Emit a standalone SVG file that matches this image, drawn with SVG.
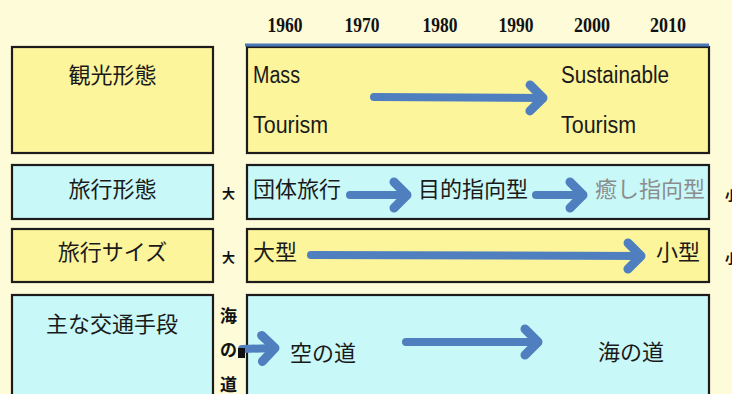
<svg xmlns="http://www.w3.org/2000/svg" width="732" height="394" viewBox="0 0 732 394">
<defs>
<style>
.bg{fill:#fdfbd8}
.y{fill:#fcf59c;stroke:#1c1c1c;stroke-width:2.2}
.c{fill:#c8f8f8;stroke:#1c1c1c;stroke-width:2.2}
.t{font-family:"Noto Sans CJK JP","Noto Sans",sans-serif;font-size:22px;fill:#1a1a1a}
.e{font-family:"Liberation Sans",Arial,sans-serif;font-size:23px;fill:#1a1a1a}
.yr{font-family:"Liberation Serif","Times New Roman",serif;font-size:21px;font-weight:bold;fill:#111;text-anchor:middle}
.s{font-family:"Noto Sans CJK JP",sans-serif;font-size:13px;font-weight:bold;fill:#111}
.v{font-family:"Noto Sans CJK JP",sans-serif;font-size:17px;font-weight:bold;fill:#111}
.a{stroke:#4f7fbf;stroke-width:8;fill:none;stroke-linecap:round;marker-end:url(#head)}
</style>
<marker id="head" markerUnits="userSpaceOnUse" markerWidth="30" markerHeight="34" viewBox="0 0 30 34" refX="19" refY="17" orient="auto" overflow="visible">
<path d="M6,4 L19,17 L6,30" fill="none" stroke="#4f7fbf" stroke-width="9" stroke-linecap="round" stroke-linejoin="round"/>
</marker>
</defs>
<rect class="bg" x="0" y="0" width="732" height="394"/>

<g id="years">
<text class="yr" x="285" y="32" textLength="35" lengthAdjust="spacingAndGlyphs">1960</text>
<text class="yr" x="362" y="32" textLength="35" lengthAdjust="spacingAndGlyphs">1970</text>
<text class="yr" x="440" y="32" textLength="35" lengthAdjust="spacingAndGlyphs">1980</text>
<text class="yr" x="516" y="32" textLength="35" lengthAdjust="spacingAndGlyphs">1990</text>
<text class="yr" x="592" y="32" textLength="36" lengthAdjust="spacingAndGlyphs">2000</text>
<text class="yr" x="668" y="32" textLength="36" lengthAdjust="spacingAndGlyphs">2010</text>
</g>

<g id="row1-label">
<rect class="y" x="12" y="47" width="201" height="106"/>
<text class="t" x="112.5" y="83" text-anchor="middle">観光形態</text>
</g>
<g id="row1-content">
<rect class="y" x="247" y="47" width="462" height="106"/>
<line x1="245" y1="45" x2="709" y2="45" stroke="#4a78b8" stroke-width="3"/>
<text class="e" x="253" y="83" textLength="47" lengthAdjust="spacingAndGlyphs">Mass</text>
<text class="e" x="253" y="133" textLength="75" lengthAdjust="spacingAndGlyphs">Tourism</text>
<text class="e" x="561" y="83" textLength="108" lengthAdjust="spacingAndGlyphs">Sustainable</text>
<text class="e" x="561" y="133" textLength="75" lengthAdjust="spacingAndGlyphs">Tourism</text>
</g>

<g id="row2-label">
<rect class="c" x="12" y="165" width="201" height="54"/>
<text class="t" x="112.5" y="197" text-anchor="middle">旅行形態</text>
</g>
<g id="row2-content">
<text class="s" x="222" y="198">大</text>
<rect class="c" x="247" y="165" width="462" height="54"/>
<text class="t" x="253" y="197">団体旅行</text>
<text class="t" x="418" y="197">目的指向型</text>
<text class="t" x="595" y="197" style="fill:#8c8c8c">癒し指向型</text>
<text class="s" x="725" y="200">小</text>
</g>

<g id="row3-label">
<rect class="y" x="12" y="229" width="201" height="53"/>
<text class="t" x="112.5" y="260" text-anchor="middle">旅行サイズ</text>
</g>
<g id="row3-content">
<text class="s" x="222" y="262">大</text>
<rect class="y" x="247" y="229" width="462" height="53"/>
<text class="t" x="253" y="260">大型</text>
<text class="t" x="656" y="260">小型</text>
<text class="s" x="725" y="263">小</text>
</g>

<g id="row4-label">
<rect class="c" x="12" y="295" width="201" height="110"/>
<text class="t" x="112" y="332" text-anchor="middle">主な交通手段</text>
</g>
<g id="row4-side">
<text class="v" x="220" y="322">海</text>
<text class="v" x="220" y="356">の</text>
<text class="v" x="220" y="391">道</text>
</g>
<g id="row4-content">
<rect class="c" x="247" y="295" width="462" height="110"/>
<text class="t" x="290" y="361">空の道</text>
<text class="t" x="598" y="360">海の道</text>
</g>

<g id="connectors">
<line class="a" x1="374" y1="97" x2="543" y2="98"/>
<line class="a" x1="350" y1="195" x2="407" y2="195"/>
<line class="a" x1="536" y1="195" x2="583" y2="195"/>
<line class="a" x1="311" y1="255" x2="641" y2="256"/>
<line class="a" x1="242" y1="349" x2="275" y2="348"/>
<rect x="238" y="348" width="7" height="10" fill="#111"/>
<line class="a" x1="406" y1="342" x2="538" y2="342"/>
</g>
</svg>
